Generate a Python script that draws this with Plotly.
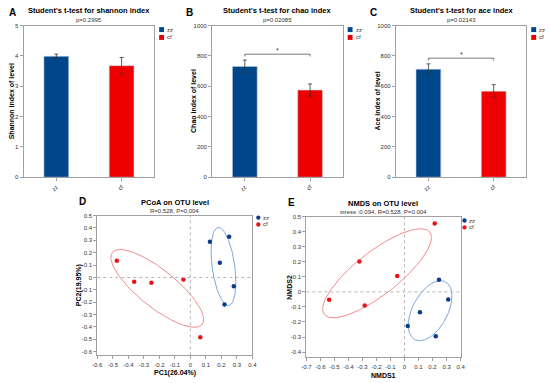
import numpy as np
import plotly.graph_objects as go

# ---------------- data ----------------
groups = ["zz", "cf"]

shannon_mean = [3.99, 3.68]
shannon_err = [0.07, 0.27]
chao_mean = [731, 575]
chao_err = [42, 40]
ace_mean = [713, 568]
ace_err = [35, 43]

bar_titles = ["Student's t-test for shannon index",
              "Student's t-test for chao index",
              "Student's t-test for ace index"]
bar_pvalues = ["p=0.2995", "p=0.02085", "p=0.02143"]
bar_ytitles = ["Shannon index of level", "Chao index of level", "Ace index of level"]
bar_significant = [False, True, True]

pcoa_zz_x = [0.126, 0.250, 0.190, 0.280, 0.220]
pcoa_zz_y = [0.289, 0.329, 0.118, -0.072, -0.219]
pcoa_cf_x = [-0.474, -0.362, -0.251, -0.045, 0.064]
pcoa_cf_y = [0.136, -0.035, -0.043, -0.016, -0.484]

nmds_zz_x = [0.246, 0.312, 0.110, 0.023, 0.223]
nmds_zz_y = [0.081, -0.050, -0.135, -0.227, -0.295]
nmds_cf_x = [0.2155, -0.322, -0.052, -0.538, -0.284]
nmds_cf_y = [0.454, 0.201, 0.105, -0.052, -0.090]

pcoa_xticks = [-0.6, -0.5, -0.4, -0.3, -0.2, -0.1, 0, 0.1, 0.2, 0.3, 0.4]
pcoa_yticks = [-0.6, -0.5, -0.4, -0.3, -0.2, -0.1, 0, 0.1, 0.2, 0.3, 0.4, 0.5]
nmds_xticks = [-0.7, -0.6, -0.5, -0.4, -0.3, -0.2, -0.1, 0, 0.1, 0.2, 0.3, 0.4]
nmds_yticks = [-0.4, -0.3, -0.2, -0.1, 0, 0.1, 0.2, 0.3, 0.4, 0.5]

ord_titles = ["PCoA on OTU level", "NMDS on OTU level"]
ord_subtitles = ["R=0.528, P=0.004", "stress :0.094, R=0.528, P=0.004"]
ord_xtitles = ["PC1(26.04%)", "NMDS1"]
ord_ytitles = ["PC2(19.95%)", "NMDS2"]

# ---------------- style ----------------
W, H = 550, 383
FONT = "Liberation Sans, Arial, sans-serif"
bar_colors = ["#00468b", "#ee0000"]
pt_colors = ["#0b3d8a", "#e8141c"]
ell_colors = ["#7ba7d7", "#f28a8a"]
ELL_K = 1.35


def fx(px):
    return px / W


def fy(py):
    return 1 - py / H


def ann(text, px, py, size, color="#000", xanchor="center", angle=0, **kw):
    d = dict(text=text, x=fx(px), y=fy(py), xref="paper", yref="paper", showarrow=False,
             xanchor=xanchor, yanchor="middle", textangle=angle,
             font=dict(size=size, color=color, family=FONT))
    d.update(kw)
    return d


def fmt(v):
    return f"{v:g}"


fig = go.Figure()
annotations = []
shapes = []

axis_common = dict(showline=True, linecolor="#a0a0a0", linewidth=1, mirror=True,
                   ticks="outside", ticklen=3, tickcolor="#a0a0a0", showgrid=False,
                   zeroline=False, tickfont=dict(size=6, color="#333", family=FONT))

# panel geometry in pixels: (x0, x1, y0, y1)
bar_boxes = [(19, 152, 23, 177), (211, 344, 23, 177), (398, 531, 23, 177)]
bar_ytitle_off = [12, 19, 19]
bar_letter_off = [11, 23, 23]
bar_data = [(shannon_mean, shannon_err, [0, 5], 1),
            (chao_mean, chao_err, [0, 1000], 200),
            (ace_mean, ace_err, [0, 1000], 200)]
letters = ["A", "B", "C"]
layout_axes = {}

for i, (box, (means, errs, yr, dt)) in enumerate(zip(bar_boxes, bar_data)):
    n = i + 1
    xa = "x" if n == 1 else f"x{n}"
    ya = "y" if n == 1 else f"y{n}"
    for j, g in enumerate(groups):
        fig.add_trace(go.Bar(
            x=[g], y=[means[j]], width=0.38, xaxis=xa, yaxis=ya,
            marker=dict(color=bar_colors[j], line=dict(color="#c8d4e0", width=0.6)),
            error_y=dict(type="data", array=[errs[j]], color="#333", thickness=0.8, width=2),
            showlegend=False))
    x0, x1, y0, y1 = box
    layout_axes["xaxis" if n == 1 else f"xaxis{n}"] = dict(
        axis_common, domain=[fx(x0), fx(x1)], anchor=ya, type="category",
        categoryorder="array", categoryarray=groups, tickangle=-45, range=[-0.5, 1.5])
    layout_axes["yaxis" if n == 1 else f"yaxis{n}"] = dict(
        axis_common, domain=[fy(y1), fy(y0)], anchor=xa, range=yr, dtick=dt)
    cx = (x0 + x1) / 2
    annotations.append(ann(f"<b>{bar_titles[i]}</b>", cx, 8, 7.5))
    annotations.append(ann(bar_pvalues[i], cx, 17, 6, "#333"))
    annotations.append(ann(f"<b>{bar_ytitles[i]}</b>", x0 - bar_ytitle_off[i], (y0 + y1) / 2, 7,
                           angle=-90))
    annotations.append(ann(f"<b>{letters[i]}</b>", x0 - bar_letter_off[i], 10, 10))
    # legend
    for j, g in enumerate(groups):
        ly = 27 + 8 * j
        shapes.append(dict(type="rect", xref="paper", yref="paper",
                           x0=fx(x1 + 5), x1=fx(x1 + 10), y0=fy(ly + 2.5), y1=fy(ly - 2.5),
                           fillcolor=bar_colors[j], line=dict(width=0)))
        annotations.append(ann(g, x1 + 11, ly, 6, "#333", xanchor="left"))
    # significance bracket
    if bar_significant[i]:
        top = max(m + e for m, e in zip(means, errs)) * 1.05
        tick = (yr[1] - yr[0]) * 0.015
        shapes.append(dict(type="line", xref=xa, yref=ya, x0=groups[0], x1=groups[1],
                           y0=top, y1=top, line=dict(color="#555", width=0.8)))
        for g in groups:
            shapes.append(dict(type="line", xref=xa, yref=ya, x0=g, x1=g,
                               y0=top, y1=top - tick, line=dict(color="#555", width=0.8)))
        annotations.append(dict(text="*", x=0.5, y=top, xref=xa, yref=ya, yanchor="bottom",
                                xanchor="center", showarrow=False, yshift=-2,
                                font=dict(size=7, color="#333", family=FONT)))


def ellipse(xs, ys, k):
    pts = np.column_stack([xs, ys])
    mu = pts.mean(axis=0)
    cov = np.cov(pts, rowvar=False)
    vals, vecs = np.linalg.eigh(cov)
    t = np.linspace(0, 2 * np.pi, 200)
    circ = np.vstack([np.cos(t), np.sin(t)])
    e = vecs @ (np.sqrt(vals)[:, None] * circ) * k
    return mu[0] + e[0], mu[1] + e[1]


ord_boxes = [(94, 252, 216, 358), (307, 464, 217, 360)]
ord_ranges = [([-0.6, 0.4], [-0.63, 0.5]), ([-0.7, 0.4], [-0.435, 0.5])]
ord_ticks = [(pcoa_xticks, pcoa_yticks), (nmds_xticks, nmds_yticks)]
ord_data = [((pcoa_zz_x, pcoa_zz_y), (pcoa_cf_x, pcoa_cf_y)),
            ((nmds_zz_x, nmds_zz_y), (nmds_cf_x, nmds_cf_y))]
ord_letters = ["D", "E"]
ord_legend_px = [(258, 218), (468, 221)]
ord_ytitle_off = [19, 17]

for i, box in enumerate(ord_boxes):
    n = i + 4
    xa, ya = f"x{n}", f"y{n}"
    for j, g in enumerate(groups):
        xs, ys = ord_data[i][j]
        ex, ey = ellipse(xs, ys, ELL_K)
        fig.add_trace(go.Scatter(x=ex, y=ey, mode="lines", xaxis=xa, yaxis=ya,
                                 line=dict(color=ell_colors[j], width=1), showlegend=False,
                                 hoverinfo="skip"))
    for j, g in enumerate(groups):
        xs, ys = ord_data[i][j]
        fig.add_trace(go.Scatter(x=xs, y=ys, mode="markers", xaxis=xa, yaxis=ya, name=g,
                                 marker=dict(color=pt_colors[j], size=4.5), showlegend=False))
    x0, x1, y0, y1 = box
    xr, yr = ord_ranges[i]
    xt, yt = ord_ticks[i]
    layout_axes[f"xaxis{n}"] = dict(axis_common, domain=[fx(x0), fx(x1)], anchor=ya,
                                    range=xr, tickmode="array", tickvals=xt,
                                    ticktext=[fmt(v) for v in xt], tickangle=0)
    layout_axes[f"yaxis{n}"] = dict(axis_common, domain=[fy(y1), fy(y0)], anchor=xa,
                                    range=yr, tickmode="array", tickvals=yt,
                                    ticktext=[fmt(v) for v in yt])
    shapes.append(dict(type="line", xref=xa, yref=f"{ya} domain", x0=0, x1=0, y0=0, y1=1,
                       line=dict(color="#b5b5b5", width=1, dash="dot")))
    shapes.append(dict(type="line", xref=f"{xa} domain", yref=ya, x0=0, x1=1, y0=0, y1=0,
                       line=dict(color="#b5b5b5", width=1, dash="dot")))
    cx = (x0 + x1) / 2
    ty = y0 - 13
    annotations.append(ann(f"<b>{ord_titles[i]}</b>", cx, ty, 7.5))
    annotations.append(ann(ord_subtitles[i], cx, ty + 8, 6, "#333"))
    annotations.append(ann(f"<b>{ord_ytitles[i]}</b>", x0 - ord_ytitle_off[i], (y0 + y1) / 2, 7,
                           angle=-90))
    annotations.append(ann(f"<b>{ord_xtitles[i]}</b>", cx, y1 + 18, 7))
    annotations.append(ann(f"<b>{ord_letters[i]}</b>", x0 - 15, y0 - 14, 10))
    lx, ly0 = ord_legend_px[i]
    for j, g in enumerate(groups):
        ly = ly0 + 7 * j
        shapes.append(dict(type="circle", xref="paper", yref="paper",
                           x0=fx(lx - 2.2), x1=fx(lx + 2.2), y0=fy(ly + 2.2), y1=fy(ly - 2.2),
                           fillcolor=pt_colors[j], line=dict(width=0)))
        annotations.append(ann(g, lx + 3, ly, 6, "#333", xanchor="left"))

fig.update_layout(
    width=W, height=H, margin=dict(l=0, r=0, t=0, b=0),
    paper_bgcolor="white", plot_bgcolor="white", barmode="overlay",
    font=dict(family=FONT), showlegend=False,
    annotations=annotations, shapes=shapes, **layout_axes)

# remove the browser's default 8px body margin so the 550x383 figure fills the window
fig.write_html("out.html", config={"displayModeBar": False},
               post_script="document.body.style.margin='0';")
